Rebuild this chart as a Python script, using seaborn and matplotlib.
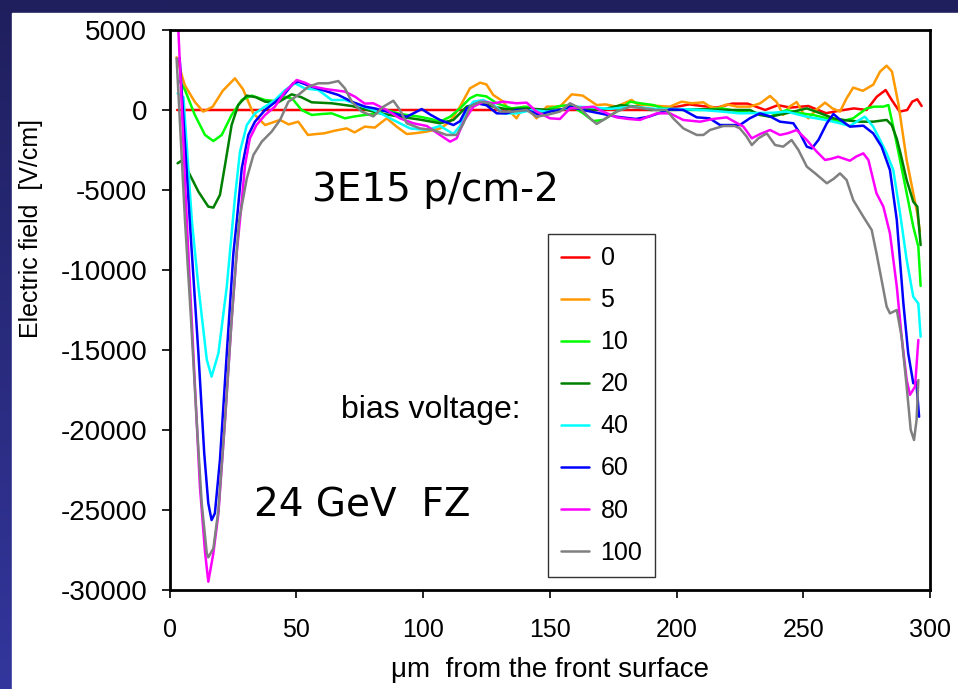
import numpy as np
import pandas as pd
import seaborn as sns
import matplotlib.pyplot as plt
from matplotlib.colors import LinearSegmentedColormap
from matplotlib.patches import Rectangle

# bias voltages and their colours
bias_labels = ['0', '5', '10', '20', '40', '60', '80', '100']
bias_colors = ['#FF0000', '#FF9900', '#00FF00', '#008000',
               '#00FFFF', '#0000FF', '#FF00FF', '#808080']

# (depth um, electric field V/cm)
pts_0 = [(3, 0), (50, 0), (100, 0), (150, 0), (190, 0), (200, 200), (205, 350),
         (210, 250), (216, 150), (222, 400), (228, 400), (235, 0), (240, 300),
         (245, 150), (252, 250), (259, -200), (264, -50), (270, 100), (275, 0),
         (279, 830), (282.5, 1250), (285, 600), (288, -100), (291, 0), (293, 520),
         (295, 670), (296.7, 250)]

pts_5 = [(2.8, 3290), (6, 1560), (10, 500), (13.3, -100), (17, 200), (21, 1200),
         (25.8, 1980), (29, 1300), (33, -200), (37.7, -940), (43.6, -620), (47, -900),
         (50.8, -730), (54.6, -1560), (58, -1500), (61, -1460), (65, -1300),
         (69.9, -1150), (73, -1400), (77, -1040), (81, -1100), (85.7, -520),
         (89.6, -1040), (93.6, -1500), (97, -1450), (101.5, -1350), (106.8, -1150),
         (110.7, -730), (114.6, 210), (118.5, 1350), (122.5, 1710), (125, 1600),
         (127.7, 940), (131.7, 520), (134.3, -100), (136.9, -520), (139.6, 210),
         (142, 0), (144.8, -520), (148.8, 210), (154, 210), (158.7, 980), (163, 900),
         (168.5, 310), (172, 350), (176.4, 210), (179, 400), (182.3, 630), (185, 310),
         (188.2, 310), (193, 250), (197.4, 210), (202, 520), (206, 420), (210.6, 480),
         (213.2, 210), (216, 100), (219.8, 350), (224, 210), (229, 210), (233, 420),
         (236.9, 875), (239.5, 500), (242.1, -310), (244.5, 200), (247.4, 500),
         (250, -210), (252, -520), (255, 0), (258.6, 460), (261.5, 100), (264.5, -100),
         (267.1, 730), (269.7, 1400), (273.5, 1200), (277.6, 1580), (280.3, 2400),
         (282.9, 2770), (285, 2400), (287.5, 420), (290.8, -3130), (293.4, -5200),
         (295, -6460), (296, -7600)]

pts_10 = [(4, 1800), (6.1, 1250), (10, -310), (14, -1560), (17.3, -1940), (20.6, -1560),
          (24.5, -310), (28.5, 625), (32.4, 900), (37.7, 625), (41.5, 560), (45.6, 830),
          (48.5, 700), (52.1, 0), (56.1, -310), (60, -250), (64, -210), (69.2, -520),
          (73, -400), (77.1, -310), (81, -250), (85.7, 0), (90.9, -250), (98.8, -420),
          (102.7, -550), (106.7, -730), (110.7, -420), (114.6, 100), (118.5, 730),
          (121.2, 940), (125, 850), (129.1, 420), (135, 100), (140.9, 210), (146, -200),
          (150.1, 100), (154, 250), (158, 310), (163.2, -210), (167.2, -690),
          (171.1, -620), (176.4, -100), (181.7, 520), (185.6, 420), (190.8, 310),
          (195, 100), (202.7, 0), (210, 0), (218, 100), (225, -100), (232.9, -210),
          (236.9, -420), (240, -200), (243.5, 0), (248.7, -200), (254, -310),
          (259.3, -520), (264.5, -730), (269.7, -520), (275, 100), (278, 210),
          (281.6, 210), (283.6, 310), (285.5, -1040), (287.5, -2600), (290.8, -5200),
          (293.4, -7290), (295.4, -8540), (296.3, -11000)]

pts_20 = [(3.2, -3330), (5.4, -3100), (7.4, -3850), (11.4, -5100), (15.3, -6040),
          (17.3, -6100), (19.9, -5310), (21.9, -3440), (24.5, -940), (27.1, 310),
          (30.5, 900), (34, 800), (37.7, 520), (42.9, 480), (48.2, 980), (52, 800),
          (56.1, 480), (64, 420), (71.9, 250), (77.1, 40), (83, -210), (90.9, -420),
          (98.8, -600), (106.7, -830), (112, -620), (117.2, 210), (122.5, 460),
          (127.7, 210), (133, 50), (141, 100), (150, 0), (160, 100), (170, 0), (178, 300),
          (185, 200), (190, 0), (200, 0), (210, 50), (220, 0), (229, 0), (232.9, -310),
          (236.9, -420), (243.5, -200), (251.4, 100), (256.7, -200), (261.9, -520),
          (267.1, -650), (272.4, -730), (277.6, -730), (282.9, -620), (284.9, -940),
          (286.9, -1800), (288.5, -2800), (290.8, -4380), (293.4, -5730), (295, -6040),
          (296.3, -8440)]

pts_40 = [(3.2, 1040), (5.5, 800), (8.8, -6875), (11.4, -11040), (14.7, -15600),
          (16.6, -16670), (19.3, -15200), (22.6, -11040), (25.8, -5500), (27.8, -2600),
          (30.5, -940), (33.7, -210), (37.7, 210), (41.6, 625), (45.6, 1250),
          (49.5, 1670), (53.4, 1350), (58.7, 1250), (64, 625), (69.2, 625), (74.5, 320),
          (80.4, 0), (84.4, -300), (88.3, -625), (94.9, -1150), (101.5, -1250),
          (106.7, -1000), (112, -1500), (114.6, -1000), (117.2, 0), (119.9, 520),
          (123.8, 625), (128, 300), (131.7, -210), (137, -210), (143, 0), (148.8, -100),
          (154, 0), (160, 210), (166, 170), (174, 70), (182, 210), (192, 70), (200, 70),
          (210, 0), (218, -100), (225, -210), (238.2, -170), (243.5, -100),
          (251.4, -420), (258, -600), (264.5, -830), (268.4, -1000), (271, -730),
          (274.3, -420), (277.6, -1040), (280.3, -1875), (282.9, -2710), (285.5, -3750),
          (288.2, -6460), (290.8, -9375), (293.4, -11670), (295.4, -12100),
          (296.3, -14170)]

pts_60 = [(4, 3250), (8.1, -7190), (11.4, -15200), (13.7, -21460), (15.3, -24580),
          (16.6, -25630), (17.9, -25210), (19.9, -21875), (22.6, -15200), (25.2, -8960),
          (26.5, -7000), (28.5, -3650), (31.1, -1560), (33.7, -730), (37.7, 0),
          (41.6, 480), (45.6, 1040), (48.8, 1670), (50.8, 1770), (56.1, 1460),
          (61.3, 1200), (66.6, 940), (71.9, 520), (77.1, 210), (81, 100), (88.3, -210),
          (93.6, -420), (96.2, -210), (99.5, 60), (103, -300), (106.7, -625),
          (112, -940), (114.6, -700), (117.2, 100), (121.2, 420), (125, 300),
          (129.1, -210), (133, -210), (137, 0), (141, 0), (146, -300), (150, -100),
          (154, 0), (158, 210), (163, 0), (168.5, -170), (176.4, -420), (184, -560),
          (189, -420), (197.4, 40), (202.7, 0), (208, -460), (213, -520), (217.2, -940),
          (222, -940), (225, -940), (228.9, -520), (232.9, -210), (236.9, -400),
          (240.8, -730), (246.1, -830), (248.7, -1460), (251.4, -2290), (253.4, -2400),
          (256, -1870), (259.3, -830), (261.9, -250), (264.5, -600), (268.4, -1040),
          (273.7, -980), (277.6, -1460), (280.9, -2290), (284.2, -3750), (286.9, -6875),
          (289.5, -12080), (291.4, -15200), (293.4, -17080), (294.6, -17000),
          (295.7, -19170)]

pts_80 = [(3.5, 5000), (6.8, -6875), (9.4, -15200), (12, -23540), (14, -27600),
          (15.3, -29480), (17.3, -27700), (19.3, -25200), (21.9, -19375), (24.5, -13125),
          (26.5, -8960), (27.8, -6875), (29.8, -3440), (31.7, -1770), (34.3, -940),
          (37.7, -310), (41.6, 210), (45.6, 1150), (50.2, 1875), (53.5, 1700),
          (56.7, 1460), (61.9, 1300), (69.2, 1150), (73.2, 830), (77, 400), (80.4, 420),
          (85.7, 0), (90.9, -520), (96.2, -830), (101.5, -1000), (106.7, -1560),
          (110.7, -1980), (113.3, -1770), (116, -730), (119.9, 210), (123.8, 520),
          (127.7, 420), (131.7, 520), (136.9, 420), (140.9, 460), (144.8, -100),
          (150.1, -520), (154, -560), (158, 100), (163, 150), (167.2, 210), (171, -100),
          (176.4, -460), (181, -560), (185.6, -620), (192.2, -210), (197.4, -210),
          (202.7, -625), (209.3, -730), (214.5, -560), (219.8, -460), (226.4, -1040),
          (229.7, -1770), (233, -1500), (236.9, -1250), (240.8, -1560), (244, -1450),
          (247.4, -1250), (251.4, -1875), (255.3, -2600), (258.6, -3125), (261, -3050),
          (263.8, -2920), (268.4, -3170), (271, -2900), (273.7, -2710), (275.7, -3125),
          (278.9, -5210), (281.6, -6040), (284.2, -7710), (286.9, -11040),
          (288.8, -14170), (290.8, -16875), (292.1, -17800), (294.1, -17290),
          (295.4, -14375)]

pts_100 = [(2.8, 3230), (6.1, -6875), (8.5, -13125), (10.7, -19375), (12.7, -24580),
           (14.7, -27700), (15.3, -27960), (17.3, -27400), (19.3, -25000), (21.9, -19375),
           (24.5, -13125), (27.4, -7000), (28.5, -6000), (30.5, -4270), (33.1, -2810),
           (36.4, -1980), (40.3, -1350), (43.6, -625), (46.9, 520), (50.8, 940),
           (54.8, 1460), (58.7, 1670), (62.6, 1670), (66.6, 1810), (69.2, 1350),
           (71.9, 520), (75.8, -100), (80.4, -400), (84.4, 210), (88.3, 580), (90.9, 0),
           (93.6, -830), (98.8, -1150), (104, -1250), (109.3, -1560), (113.3, -1560),
           (116, -830), (118.5, 210), (122.5, 520), (126.4, 420), (130.4, -100),
           (135.7, -100), (140.9, 0), (144.8, -420), (148.8, -310), (154, -100),
           (158, 420), (162, 100), (165.9, -520), (168.5, -875), (171.1, -620),
           (176.4, -100), (181.7, 210), (187, 100), (192, 0), (196, 0), (198.7, -520),
           (202.7, -1150), (208, -1560), (210.6, -1560), (213.2, -1250), (218.5, -1000),
           (223, -1000), (225, -1150), (227.7, -1670), (229.7, -2190), (232.3, -1770),
           (235.6, -1460), (238.9, -2190), (242.1, -2290), (245.4, -1875), (248.1, -2500),
           (251.4, -3540), (254.7, -3960), (259.3, -4580), (262, -4300), (264.5, -3960),
           (267.1, -4375), (269.7, -5625), (273.7, -6670), (277, -7500), (278.9, -8960),
           (280.9, -10625), (282.9, -12290), (284.2, -12710), (286.9, -12500),
           (288.8, -14170), (290.8, -17290), (292.4, -20000), (293.7, -20625),
           (294.7, -19375), (295.4, -16875)]

x_ticks = [0, 50, 100, 150, 200, 250, 300]
y_ticks = [-30000, -25000, -20000, -15000, -10000, -5000, 0, 5000]

all_pts = [pts_0, pts_5, pts_10, pts_20, pts_40, pts_60, pts_80, pts_100]
frames = []
for lab, pts in zip(bias_labels, all_pts):
    d = pd.DataFrame(pts, columns=['depth', 'field'])
    d['bias'] = lab
    frames.append(d)
df = pd.concat(frames, ignore_index=True)

sns.set_style('ticks')
plt.rcParams['font.family'] = ['Liberation Sans', 'DejaVu Sans']
plt.rcParams['text.color'] = 'black'
plt.rcParams['axes.labelcolor'] = 'black'
plt.rcParams['xtick.color'] = 'black'
plt.rcParams['ytick.color'] = 'black'

fig = plt.figure(figsize=(9.58, 6.89), dpi=100)

# slide background: dark blue gradient with white panel
bg = fig.add_axes([0, 0, 1, 1], zorder=-10)
cmap = LinearSegmentedColormap.from_list('slide', ['#33369C', '#1F1F5E'])
bg.imshow(np.linspace(0, 1, 256).reshape(-1, 1), cmap=cmap, aspect='auto',
          extent=[0, 1, 0, 1], origin='lower')
bg.axis('off')
fig.patches.append(Rectangle((12 / 958, 0), 1, 1 - 13 / 689,
                             transform=fig.transFigure, color='white', zorder=-5))

ax = fig.add_axes([169.5 / 958, 1 - 590 / 689, (930 - 169.5) / 958, 560 / 689])
sns.lineplot(data=df, x='depth', y='field', hue='bias', hue_order=bias_labels,
             palette=bias_colors, estimator=None, sort=False, lw=1.8, ax=ax)

ax.set_xlim(0, 300)
ax.set_ylim(-30000, 5000)
ax.set_xticks(x_ticks)
ax.set_yticks(y_ticks)
ax.set_yticklabels([str(v) for v in y_ticks])
ax.tick_params(axis='both', labelsize=18, length=6, width=1.2, color='black',
               labelcolor='black')
ax.tick_params(axis='x', pad=14)
ax.tick_params(axis='y', labelsize=20, pad=10)
for side in ['top', 'bottom', 'left', 'right']:
    ax.spines[side].set_visible(True)
    ax.spines[side].set_color('black')
    ax.spines[side].set_linewidth(2)

ax.set_xlabel('\u03bcm  from the front surface', fontsize=20)
ax.set_ylabel('Electric field  [V/cm]', fontsize=18)
ax.xaxis.set_label_coords(0.5, -0.12)
ax.yaxis.set_label_coords(-0.166, 0.646)

ax.text(105, -5000, '3E15 p/cm-2', fontsize=28, family='DejaVu Sans',
        ha='center', va='center')
ax.text(76, -24700, '24 GeV  FZ', fontsize=28, family='DejaVu Sans',
        ha='center', va='center')
ax.text(103, -18750, 'bias voltage:', fontsize=23, ha='center', va='center')

handles, labels = ax.get_legend_handles_labels()
leg = ax.legend(handles, labels, loc='upper left',
                bbox_to_anchor=(548 / 958, 1 - 234 / 689),
                bbox_transform=fig.transFigure, borderaxespad=0,
                fontsize=18, frameon=True, fancybox=False, handlelength=1.15,
                labelspacing=0.72, borderpad=0.5, handletextpad=0.45)
leg.get_frame().set_edgecolor('black')
leg.get_frame().set_linewidth(1)
for h in leg.get_lines():
    h.set_linewidth(1.8)

fig.savefig('out.png', dpi=100)
